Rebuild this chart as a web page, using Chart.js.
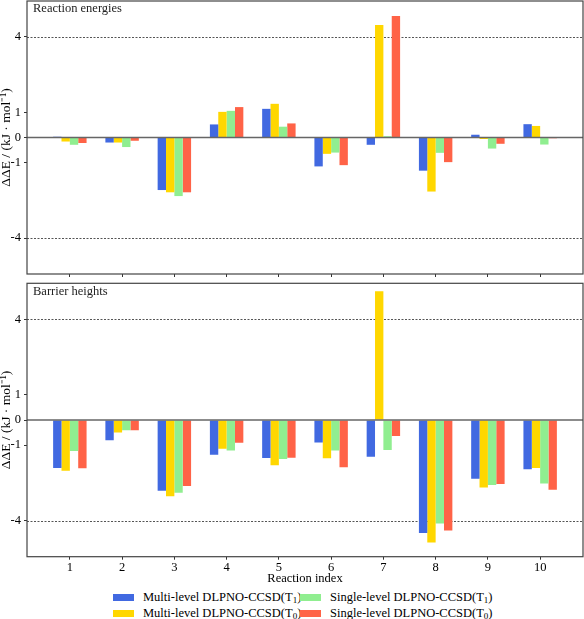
<!DOCTYPE html>
<html><head><meta charset="utf-8">
<script src="https://cdn.jsdelivr.net/npm/chart.js@4"></script>
<style>
body{margin:0;background:#fff;}
#wrap{position:relative;width:584px;height:619px;font-family:"Liberation Serif",serif;color:#000;}
#top{position:absolute;left:0;top:0;width:584px;height:280px;}
#bot{position:absolute;left:0;top:280px;width:584px;height:306px;}
.li{position:absolute;height:14px;line-height:14px;font-size:12.5px;white-space:nowrap;}
.li sub{font-size:9px;line-height:0;vertical-align:-2px;}
.sw{display:inline-block;width:21px;height:7px;vertical-align:middle;margin-right:9px;position:relative;top:-1px;}
</style></head>
<body><div id="wrap">
<div id="top"><canvas id="c1"></canvas></div>
<div id="bot"><canvas id="c2"></canvas></div>
<div id="legend"></div>
</div>
<script>
const reactions = [1,2,3,4,5,6,7,8,9,10];
const seriesNames = ['Multi-level DLPNO-CCSD(T1)','Multi-level DLPNO-CCSD(T0)','Single-level DLPNO-CCSD(T1)','Single-level DLPNO-CCSD(T0)'];
const seriesColors = ['#4169E1','#FFD700','#90EE90','#FF6347'];
const yTickValues = [-4,-1,0,1,4];
const refLineValues = [-4,4];
const yLimit = 5.43;

const energyMultiT1  = [0.03,-0.20,-2.09,0.52,1.14,-1.15,-0.29,-1.32,0.11,0.53];
const energyMultiT0  = [-0.16,-0.20,-2.18,1.02,1.34,-0.65,4.48,-2.15,-0.06,0.46];
const energySingleT1 = [-0.29,-0.38,-2.33,1.06,0.43,-0.60,0.05,-0.61,-0.44,-0.28];
const energySingleT0 = [-0.22,-0.13,-2.18,1.21,0.56,-1.10,4.83,-0.98,-0.25,-0.03];

const barrierMultiT1  = [-1.91,-0.80,-2.81,-1.38,-1.51,-0.89,-1.46,-4.49,-2.33,-1.96];
const barrierMultiT0  = [-2.02,-0.50,-3.03,-1.14,-1.80,-1.52,5.11,-4.87,-2.68,-1.91];
const barrierSingleT1 = [-1.23,-0.41,-2.89,-1.21,-1.55,-1.21,-1.19,-4.11,-2.58,-2.52];
const barrierSingleT0 = [-1.92,-0.41,-2.62,-0.90,-1.50,-1.88,-0.64,-4.39,-2.54,-2.77];

const FONT = '"Liberation Serif", serif';

function makeDatasets(arrs){
  return arrs.map((a,i)=>({
    label: seriesNames[i],
    data: a.map((v,j)=>({x: reactions[j], y: v})),
    backgroundColor: seriesColors[i],
    borderWidth: 0,
    categoryPercentage: 0.64,
    barPercentage: 1.0
  }));
}

function panelPlugin(title){
  return {
    id: 'panel',
    beforeDatasetsDraw(chart){
      const {ctx, chartArea:a, scales:{y}} = chart;
      ctx.save();
      ctx.strokeStyle = '#555';
      ctx.lineWidth = 1;
      ctx.setLineDash([2,1.5]);
      refLineValues.forEach(v=>{
        const py = Math.round(y.getPixelForValue(v))+0.5;
        ctx.beginPath(); ctx.moveTo(a.left,py); ctx.lineTo(a.right,py); ctx.stroke();
      });
      ctx.restore();
    },
    afterDatasetsDraw(chart){
      const {ctx, chartArea:a, scales:{y}} = chart;
      ctx.save();
      ctx.strokeStyle = '#666';
      ctx.lineWidth = 1.5;
      const py = y.getPixelForValue(0);
      ctx.beginPath(); ctx.moveTo(a.left,py); ctx.lineTo(a.right,py); ctx.stroke();
      ctx.strokeStyle = '#444';
      ctx.lineWidth = 1.2;
      ctx.strokeRect(a.left, a.top, a.right-a.left, a.bottom-a.top);
      ctx.fillStyle = '#222';
      ctx.font = '12.5px ' + FONT;
      ctx.textBaseline = 'middle';
      ctx.textAlign = 'left';
      ctx.fillText(title, a.left+6, a.top+8);
      ctx.restore();
    }
  };
}

function makeChart(id, arrs, title, showX, xHeight, padTop){
  return new Chart(document.getElementById(id), {
    type: 'bar',
    data: { datasets: makeDatasets(arrs) },
    options: {
      responsive: true, maintainAspectRatio: false, animation: false,
      layout: { padding: { top: padTop, right: 1, left: 0, bottom: 0 } },
      plugins: { legend: { display: false }, tooltip: { enabled: false } },
      scales: {
        x: {
          type: 'linear', min: 0.18, max: 10.82, offset: false,
          afterBuildTicks: s => { s.ticks = reactions.map(v=>({value:v})); },
          afterFit: s => { s.height = xHeight; s.paddingLeft = 0; s.paddingRight = 0; },
          grid: { display: true, offset: false, drawOnChartArea: false, tickLength: 3, color: '#333', tickWidth: 1 },
          border: { display: false },
          ticks: { display: showX, color: '#000', padding: 1, font: { family: FONT, size: 12.5 } },
          title: { display: showX, text: 'Reaction index', color: '#000', padding: {top:0, bottom:0}, font: { family: FONT, size: 12.5 } }
        },
        y: {
          min: -yLimit, max: yLimit,
          afterBuildTicks: s => { s.ticks = yTickValues.map(v=>({value:v})); },
          afterFit: s => { s.width = 27; s.paddingTop = 0; s.paddingBottom = 0; },
          grid: { display: true, drawOnChartArea: false, tickLength: 3, color: '#333' },
          border: { display: false },
          ticks: { color: '#000', padding: 3, font: { family: FONT, size: 12.5 }, callback: v => String(v) },
          title: { display: true, text: '\u0394\u0394E / (kJ \u00b7 mol\u207b\u00b9)', color: '#000', padding: {top:0,bottom:0}, font: { family: FONT, size: 13.5, lineHeight: 0.95 } }
        }
      }
    },
    plugins: [panelPlugin(title)]
  });
}

const c1 = makeChart('c1', [energyMultiT1, energyMultiT0, energySingleT1, energySingleT0], 'Reaction energies', false, 6, 1);
const c2 = makeChart('c2', [barrierMultiT1, barrierMultiT0, barrierSingleT1, barrierSingleT0], 'Barrier heights', true, 29.3, 3.3);

// HTML legend, two columns (column-major order as in the reference)
const legendPos = [[113,590],[113,606],[300,590],[300,606]];
const leg = document.getElementById('legend');
c2.data.datasets.forEach((d,i)=>{
  const el = document.createElement('div');
  el.className = 'li';
  el.style.left = legendPos[i][0]+'px';
  el.style.top = legendPos[i][1]+'px';
  const sw = document.createElement('span');
  sw.className = 'sw';
  sw.style.background = d.backgroundColor;
  el.appendChild(sw);
  const m = d.label.match(/^(.*\(T)(\d)(\))$/);
  el.appendChild(document.createTextNode(m[1]));
  const sub = document.createElement('sub');
  sub.textContent = m[2];
  el.appendChild(sub);
  el.appendChild(document.createTextNode(m[3]));
  leg.appendChild(el);
});
</script>
</body></html>
